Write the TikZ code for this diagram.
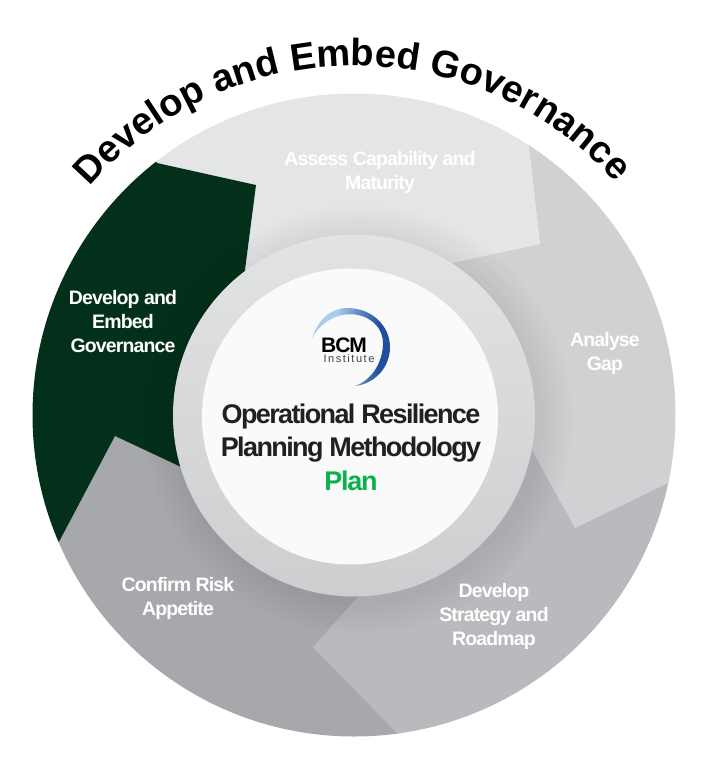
\documentclass[tikz,border=0pt]{standalone}
\usepackage{fontspec}
\setmainfont{Liberation Sans}
\newfontfamily\tightsf[LetterSpace=-4.5]{Liberation Sans}
\newfontfamily\tightersf[LetterSpace=-6]{Liberation Sans}
\newfontfamily\widesf[LetterSpace=14]{Liberation Sans}
\usetikzlibrary{decorations.text,fadings}
\definecolor{cGreen}{HTML}{03301B}
\definecolor{cAssess}{HTML}{E4E5E7}
\definecolor{cGap}{HTML}{D0D1D3}
\definecolor{cRoad}{HTML}{B9BABD}
\definecolor{cRisk}{HTML}{A7A8AB}
\definecolor{cPlan}{HTML}{0BB14F}
\definecolor{cText}{HTML}{231F20}
\definecolor{cLogoA}{HTML}{A9CBEC}
\definecolor{cLogoB}{HTML}{1F4E9B}
\definecolor{cRingA}{HTML}{CDCED0}
\definecolor{cRingB}{HTML}{E2E3E5}
\pgfdeclareradialshading{ringfadeshade}{\pgfpointorigin}{color(0bp)=(pgftransparent!92); color(21bp)=(pgftransparent!92); color(25bp)=(pgftransparent!100); color(50bp)=(pgftransparent!100)}
\pgfdeclarefading{ringfade}{\pgfuseshading{ringfadeshade}}
\pgfdeclarehorizontalshading{logoshade}{100bp}{color(0bp)=(cLogoA); color(46bp)=(cLogoA); color(59bp)=(cLogoB); color(100bp)=(cLogoB)}
\tikzset{
  seglabel/.style={text=white,font=\tightsf\bfseries\fontsize{19.5}{24}\selectfont,align=center,inner sep=0pt},
  titlelabel/.style={text=cText,font=\tightersf\bfseries\fontsize{27}{33}\selectfont,align=center,inner sep=0pt}
}
\begin{document}
\begin{tikzpicture}[x=1pt,y=-1pt]
\useasboundingbox (0,0) rectangle (722,764);
\begin{scope}
\clip (354,415) circle [radius=321.5];
\fill[cAssess] (60,60) -- (620,60) -- (529,147) -- (540,244) -- (452,263) -- (354,415) -- (245,270) -- (256,185) -- (157,163) -- cycle;
\fill[cGap] (529,147) -- (500,60) -- (720,60) -- (720,450) -- (668,483) -- (575,528) -- (532,450) -- (354,415) -- (452,263) -- (540,244) -- cycle;
\fill[cRoad] (720,452) -- (668,483) -- (575,528) -- (532,450) -- (354,415) -- (358,597) -- (313,647) -- (397,733) -- (440,764) -- (720,764) -- cycle;
\fill[cRisk] (397,733) -- (440,764) -- (0,764) -- (0,610) -- (60,540) -- (115,436) -- (181,467) -- (354,415) -- (358,597) -- (313,647) -- cycle;
\fill[cGreen] (157,163) -- (256,185) -- (245,270) -- (354,415) -- (181,467) -- (115,436) -- (60,540) -- (0,610) -- (0,100) -- (110,100) -- cycle;
\fill[black,path fading=ringfade] (358,420) circle [radius=215];
\end{scope}
\shade[top color=cRingB,bottom color=cRingA] (354,415.5) circle [radius=181];
\fill[white!98!black] (350,416.5) circle [radius=148];
% title arc
\path[decorate,decoration={text along path,text align=fit to path,
  text={|\fontsize{38}{38}\bfseries\selectfont|Develop and Embed Governance}}]
  (90,187) arc [start angle=-139.2,end angle=-41.8,radius=350];
% logo
\begin{scope}
\clip (312,338) .. controls (318,320) and (331,308) .. (347,308)
  .. controls (372,308) and (390,326) .. (390,347)
  .. controls (390,368) and (374,384) .. (355,386)
  .. controls (372,380) and (383,362) .. (383,343)
  .. controls (383,330) and (374,320) .. (362,316)
  .. controls (342,310) and (322,320) .. (312,338) -- cycle;
\begin{scope}[shift={(350,347)},rotate=-59.6]
\shade[shading=logoshade] (-60,-60) rectangle (60,60);
\end{scope}
\end{scope}
\node[inner sep=0pt,text=black,font=\tightsf\bfseries\fontsize{21}{21}\selectfont] (logoA) at (344,345) {BCM};
\node[inner sep=0pt,text=cText!85,font=\widesf\fontsize{11}{11}\selectfont] (logoB) at (349,358.5) {Institute};
% centre
\node[titlelabel] (centre) at (351,433.5) {Operational Resilience\\Planning Methodology};
\node[inner sep=0pt,text=cPlan,font=\tightsf\bfseries\fontsize{27}{30}\selectfont] (plan) at (351,481) {Plan};
% segments
\node[seglabel] (s1) at (380,172) {Assess Capability and\\Maturity};
\node[seglabel] (s2) at (605,353) {Analyse\\Gap};
\node[seglabel] (s3) at (494,616) {Develop\\Strategy and\\Roadmap};
\node[seglabel] (s4) at (178,598) {Confirm Risk\\Appetite};
\node[seglabel] (s5) at (123,322) {Develop and\\Embed\\Governance};
\end{tikzpicture}
\end{document}
